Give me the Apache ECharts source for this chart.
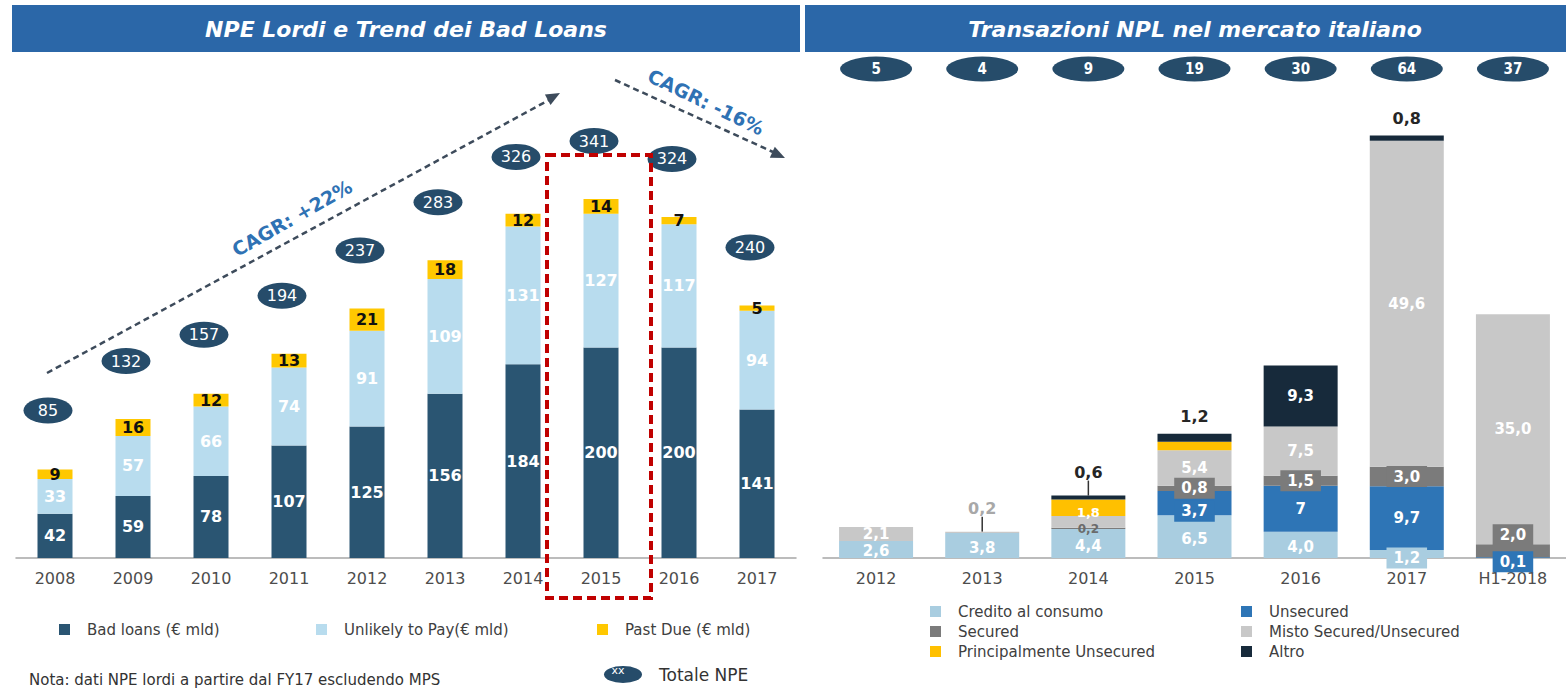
<!DOCTYPE html>
<html lang="it">
<head>
<meta charset="UTF-8" />
<title>NPE Lordi e Transazioni NPL</title>
<script src="https://cdn.jsdelivr.net/npm/echarts@6/dist/echarts.min.js"></script>
<style>
  html, body { margin: 0; padding: 0; background: #fff; }
  #main { width: 1566px; height: 690px; }
</style>
</head>
<body>
<div id="main"></div>
<script>
// ---- left chart: NPE lordi (€ mld)
const years = ['2008', '2009', '2010', '2011', '2012', '2013', '2014', '2015', '2016', '2017'];
const badLoans = [42, 59, 78, 107, 125, 156, 184, 200, 200, 141];
const unlikelyToPay = [33, 57, 66, 74, 91, 109, 131, 127, 117, 94];
const pastDue = [9, 16, 12, 13, 21, 18, 12, 14, 7, 5];
const totaleNpe = [85, 132, 157, 194, 237, 283, 326, 341, 324, 240];

// ---- right chart: transazioni NPL (values as printed, € mld)
const periods = ['2012', '2013', '2014', '2015', '2016', '2017', 'H1-2018'];
const creditoConsumo = ['2.6', '3.8', '4.4', '6.5', '4.0', '1.2', null];
const unsecured = [null, null, null, '3.7', '7', '9.7', '0.1'];
const secured = [null, null, '0.2', '0.8', '1.5', '3.0', '2.0'];
const mistoSecUnsec = ['2.1', '0.2', '1.8', '5.4', '7.5', '49.6', '35.0'];
const principalmenteUnsec = [null, null, '2.5', '1.3', null, null, null]; // not printed
const altro = [null, null, '0.6', '1.2', '9.3', '0.8', null];
const totaleTransazioni = [5, 4, 9, 19, 30, 64, 37];

const C = {
  bad: '#2a5572', utp: '#b8dcee', due: '#ffc800', oval: '#264c6a',
  credito: '#a9cde0', unsec: '#2e75b6', sec: '#7b7b7b', misto: '#c8c8c8',
  princ: '#ffc000', altro: '#172a3b', head: '#2b67a8', arrow: '#3d4b5b'
};
const FONT = 'DejaVu Sans';
const ovalPath = 'path://M0,10A10,10,0,1,1,20,10A10,10,0,1,1,0,10Z';
const fmt = s => s.replace('.', ',');
const num = (arr, i) => (arr[i] == null ? null : Number(arr[i]));

const chart = echarts.init(document.getElementById('main'), null, { renderer: 'svg' });

const inLabel = (s, dy, size) => ({ show: true, position: 'inside', color: '#fff', fontWeight: 'bold', fontSize: size || 15,
  formatter: fmt(s), offset: [0, dy || 0] });
const boxLabel = (s, bg, dy) => ({
  show: true, position: 'inside', color: '#fff', fontWeight: 'bold', fontSize: 15, formatter: fmt(s),
  backgroundColor: bg, padding: [3, 7], offset: [0, dy || 0]
});
const topLabel = (s, color, lead) => ({
  show: true, position: 'top', distance: lead ? 4 : 9, color: color, fontWeight: 'bold', fontSize: 16, formatter: fmt(s)
});

// layoutDy: vertical shift of a label (via labelLayout); leadFor: labels that get a guide line
function rightSeries(name, values, color, labelFor, layoutDy, leadFor) {
  return {
    name: name, type: 'bar', stack: 'R', xAxisIndex: 1, yAxisIndex: 1, barWidth: 74,
    itemStyle: { color: color }, label: { show: false },
    labelLine: { show: false },
    labelLayout: layoutDy ? function (p) { const d = layoutDy(p.dataIndex); return d ? { dy: d } : {}; } : undefined,
    data: values.map((s, i) => {
      if (s == null) return '-';
      const item = { value: Number(s), label: labelFor ? labelFor(s, i) : { show: false } };
      if (leadFor && leadFor(i)) item.labelLine = { show: true, lineStyle: { color: '#333', width: 1.5 } };
      return item;
    })
  };
}

const leftBarLabel = color => ({ show: true, position: 'inside', color: color, fontWeight: 'bold', fontSize: 16 });

const option = {
  animation: false,
  textStyle: { fontFamily: FONT },
  grid: [
    { left: 16, width: 780, top: 137, height: 421 },
    { left: 823, width: 752, top: 98, height: 460 },
    { left: 823, width: 752, top: 56, height: 26 }
  ],
  xAxis: [
    {
      type: 'category', data: years, gridIndex: 0,
      axisLine: { lineStyle: { color: '#a6a6a6', width: 1.5 } },
      axisTick: { length: 6, lineStyle: { color: '#a6a6a6' } },
      axisLabel: { color: '#4d4d4d', fontSize: 16, margin: 12 }
    },
    {
      type: 'category', data: periods, gridIndex: 1,
      axisLine: { lineStyle: { color: '#a6a6a6', width: 1.5 } },
      axisTick: { length: 6, lineStyle: { color: '#a6a6a6' } },
      axisLabel: { color: '#4d4d4d', fontSize: 16, margin: 12 }
    },
    { type: 'category', data: periods, gridIndex: 2, show: false }
  ],
  yAxis: [
    { type: 'value', gridIndex: 0, min: 0, max: 400, show: false },
    { type: 'value', gridIndex: 1, min: 0, max: 70, show: false },
    { type: 'category', gridIndex: 2, data: ['n'], show: false }
  ],
  legend: [
    { data: ['Bad loans (€ mld)'], left: 54, top: 617 },
    { data: ['Unlikely to Pay(€ mld)'], left: 311, top: 617 },
    { data: ['Past Due (€ mld)'], left: 592, top: 617 },
    { data: [{ name: 'Totale NPE', icon: ovalPath }], left: 599, top: 661, itemWidth: 38, itemHeight: 17,
      symbolKeepAspect: false,
      textStyle: { fontSize: 17, color: '#333', padding: [0, 0, 0, 12] } },
    { data: ['Credito al consumo', 'Secured', 'Principalmente Unsecured'], orient: 'vertical', left: 925, top: 599, itemGap: 5 },
    { data: ['Unsecured', 'Misto Secured/Unsecured', 'Altro'], orient: 'vertical', left: 1236, top: 599, itemGap: 5 }
  ].map(l => Object.assign({
    icon: 'rect', itemWidth: 11, itemHeight: 11, selectedMode: false,
    textStyle: { fontSize: 15, color: '#404040', padding: [0, 0, 0, 12] }
  }, l)),
  series: [
    { name: 'Bad loans (€ mld)', type: 'bar', stack: 'L', barWidth: 35, data: badLoans,
      itemStyle: { color: C.bad }, label: leftBarLabel('#fff') },
    { name: 'Unlikely to Pay(€ mld)', type: 'bar', stack: 'L', data: unlikelyToPay,
      itemStyle: { color: C.utp }, label: leftBarLabel('#fff') },
    { name: 'Past Due (€ mld)', type: 'bar', stack: 'L', data: pastDue,
      itemStyle: { color: C.due }, label: leftBarLabel('#111') },
    { name: 'Totale NPE', type: 'scatter', data: totaleNpe, z: 5,
      symbol: ovalPath, symbolSize: [49, 26], symbolOffset: [-7, -58], symbolKeepAspect: false,
      itemStyle: { color: C.oval, opacity: 1 },
      label: { show: true, position: 'inside', color: '#fff', fontSize: 16, formatter: '{c}' } },

    rightSeries('Credito al consumo', creditoConsumo, C.credito,
      s => Number(s) < 2 ? boxLabel(s, C.credito, 4) : inLabel(s, 2)),
    rightSeries('Unsecured', unsecured, C.unsec,
      s => Number(s) < 1 ? boxLabel(s, C.unsec, 4) : (Number(s) < 4 ? boxLabel(s, C.unsec, 8) : inLabel(s))),
    rightSeries('Secured', secured, C.sec,
      (s, i) => Number(s) < 0.5
        ? { show: true, position: 'inside', color: '#6b6b6b', fontWeight: 'bold', fontSize: 12, formatter: fmt(s), offset: [0, 1] }
        : boxLabel(s, C.sec, num(unsecured, i) != null && num(unsecured, i) < 1 ? -16 : 0)),
    rightSeries('Misto Secured/Unsecured', mistoSecUnsec, C.misto,
      s => Number(s) < 1 ? topLabel(s, '#a8a8a8', true) : (Number(s) < 2 ? inLabel(s, 0, 13) : inLabel(s)),
      i => { const v = num(mistoSecUnsec, i); return v == null ? 0 : (v < 1 ? -11 : (v < 2 ? -9 : 0)); },
      i => num(mistoSecUnsec, i) != null && num(mistoSecUnsec, i) < 1),
    rightSeries('Principalmente Unsecured', principalmenteUnsec, C.princ, null),
    rightSeries('Altro', altro, C.altro,
      s => Number(s) >= 3 ? inLabel(s) : topLabel(s, '#262626', Number(s) < 0.7),
      i => (num(altro, i) != null && num(altro, i) < 0.7 ? -11 : 0),
      i => num(altro, i) != null && num(altro, i) < 0.7),

    { name: 'Totale transazioni', type: 'scatter', xAxisIndex: 2, yAxisIndex: 2,
      data: totaleTransazioni.map((t, i) => [periods[i], 'n', t]),
      symbol: ovalPath, symbolSize: [72, 25], symbolKeepAspect: false,
      itemStyle: { color: C.oval, opacity: 1 },
      label: { show: true, position: 'inside', color: '#fff', fontSize: 15, fontWeight: 'bold',
        fontFamily: '"DejaVu Sans Condensed", "DejaVu Sans"', formatter: p => String(p.value[2]) } }
  ],
  graphic: [
    { type: 'rect', shape: { x: 12, y: 5, width: 788, height: 47 }, style: { fill: C.head } },
    { type: 'rect', shape: { x: 805, y: 5, width: 761, height: 47 }, style: { fill: C.head } },
    { type: 'text', x: 406, y: 29, style: { text: 'NPE Lordi e Trend dei Bad Loans', fill: '#fff',
      fontFamily: FONT, fontSize: 22, fontWeight: 'bold', fontStyle: 'italic',
      align: 'center', verticalAlign: 'middle', textAlign: 'center', textVerticalAlign: 'middle' } },
    { type: 'text', x: 1195, y: 29, style: { text: 'Transazioni NPL nel mercato italiano', fill: '#fff',
      fontFamily: FONT, fontSize: 22, fontWeight: 'bold', fontStyle: 'italic',
      align: 'center', verticalAlign: 'middle', textAlign: 'center', textVerticalAlign: 'middle' } },

    // CAGR trend arrows
    { type: 'line', z: 10, shape: { x1: 47, y1: 373, x2: 549, y2: 100 },
      style: { stroke: C.arrow, lineWidth: 2.5, lineDash: [6, 4] } },
    { type: 'polygon', z: 10, shape: { points: [[560, 93], [550.5, 105], [544.9, 94.4]] }, style: { fill: C.arrow } },
    { type: 'line', z: 10, shape: { x1: 615, y1: 80, x2: 773, y2: 152 },
      style: { stroke: C.arrow, lineWidth: 2.5, lineDash: [6, 4] } },
    { type: 'polygon', z: 10, shape: { points: [[785, 158], [769.8, 157.7], [774.8, 146.8]] }, style: { fill: C.arrow } },
    { type: 'text', x: 292, y: 218, rotation: 0.517, style: { text: 'CAGR: +22%', fill: '#2f72b4',
      fontFamily: FONT, fontSize: 19, fontWeight: 'bold',
      align: 'center', verticalAlign: 'middle', textAlign: 'center', textVerticalAlign: 'middle' } },
    { type: 'text', x: 706, y: 102, rotation: -0.45, style: { text: 'CAGR: -16%', fill: '#2f72b4',
      fontFamily: FONT, fontSize: 19, fontWeight: 'bold',
      align: 'center', verticalAlign: 'middle', textAlign: 'center', textVerticalAlign: 'middle' } },

    // highlight of 2015
    { type: 'rect', z: 20, shape: { x: 547, y: 155, width: 104, height: 443 },
      style: { fill: 'none', stroke: '#c00000', lineWidth: 4, lineDash: [9, 5] } },

    { type: 'text', x: 29, y: 680, style: { text: 'Nota: dati NPE lordi a partire dal FY17 escludendo MPS',
      fill: '#333', fontFamily: FONT, fontSize: 15,
      align: 'left', verticalAlign: 'middle', textAlign: 'left', textVerticalAlign: 'middle' } },
    { type: 'text', z: 30, x: 618, y: 670, style: { text: 'xx', fill: '#fff', fontFamily: FONT, fontSize: 11,
      align: 'center', verticalAlign: 'middle', textAlign: 'center', textVerticalAlign: 'middle' } }
  ]
};

chart.setOption(option);
</script>
</body>
</html>
